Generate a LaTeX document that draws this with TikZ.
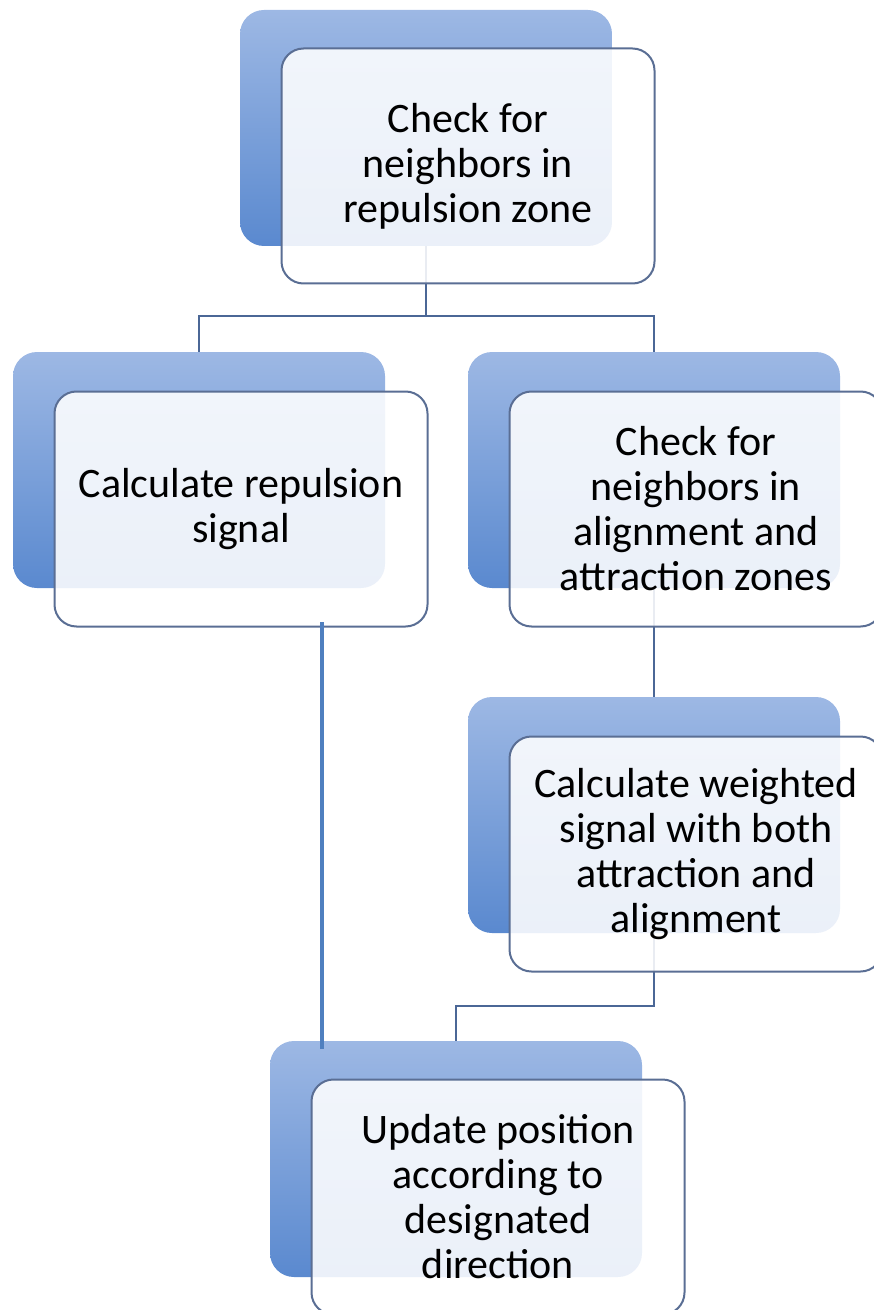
\documentclass[tikz,border=0pt]{standalone}
\usepackage{fontspec}
\setmainfont{Carlito}
\definecolor{backtop}{HTML}{9DB8E4}
\definecolor{backbot}{HTML}{5A89CF}
\definecolor{frameline}{HTML}{5A6E94}
\definecolor{linkline}{HTML}{4B6796}
\definecolor{feedline}{HTML}{4F7FBF}
\begin{document}
\begin{tikzpicture}[x=0.5pt, y=-0.5pt,
    backbox/.style={rounded corners=12pt, minimum width=186pt, minimum height=118pt,
        top color=backtop, bottom color=backbot, inner sep=0pt},
    frontbox/.style={rounded corners=11pt, draw=frameline, line width=1pt, fill=white,
        fill opacity=0.88, text opacity=1, minimum width=186.5pt, minimum height=117.5pt,
        align=center, font=\fontsize{21}{22.5}\selectfont, inner sep=0pt},
    link/.style={draw=linkline, line width=1pt},
    feed/.style={draw=feedline, line width=2pt}]
    \useasboundingbox (0,0) rectangle (873,1310);
    \node[backbox] (topback) at (426,128) {};
    \node[backbox] (repback) at (199,470) {};
    \node[backbox] (chkback) at (654,470) {};
    \node[backbox] (wback) at (654,815) {};
    \node[backbox] (updback) at (456,1159) {};
    \draw[link] (topback.south) -- ++(0,70) -| (repback.north);
    \draw[link] (topback.south) -- ++(0,70) -| (chkback.north);
    \draw[link] (chkback.south) -- (wback.north);
    \draw[link] (wback.south) -- ++(0,73) -| (updback.north);
    \node[frontbox] (top) at (468,166) {Check for\\neighbors in\\repulsion zone};
    \node[frontbox] (rep) at (241,509) {Calculate repulsion\\signal};
    \node[frontbox] (chk) at (696,509) {Check for\\neighbors in\\alignment and\\attraction zones};
    \node[frontbox] (weight) at (696,854) {Calculate weighted\\signal with both\\attraction and\\alignment};
    \node[frontbox] (upd) at (498,1197) {Update position\\according to\\designated\\direction};
    \coordinate (tap) at (322,622);
    \draw[feed] (tap) -- ([yshift=-4pt]tap |- updback.north);
\end{tikzpicture}
\end{document}
